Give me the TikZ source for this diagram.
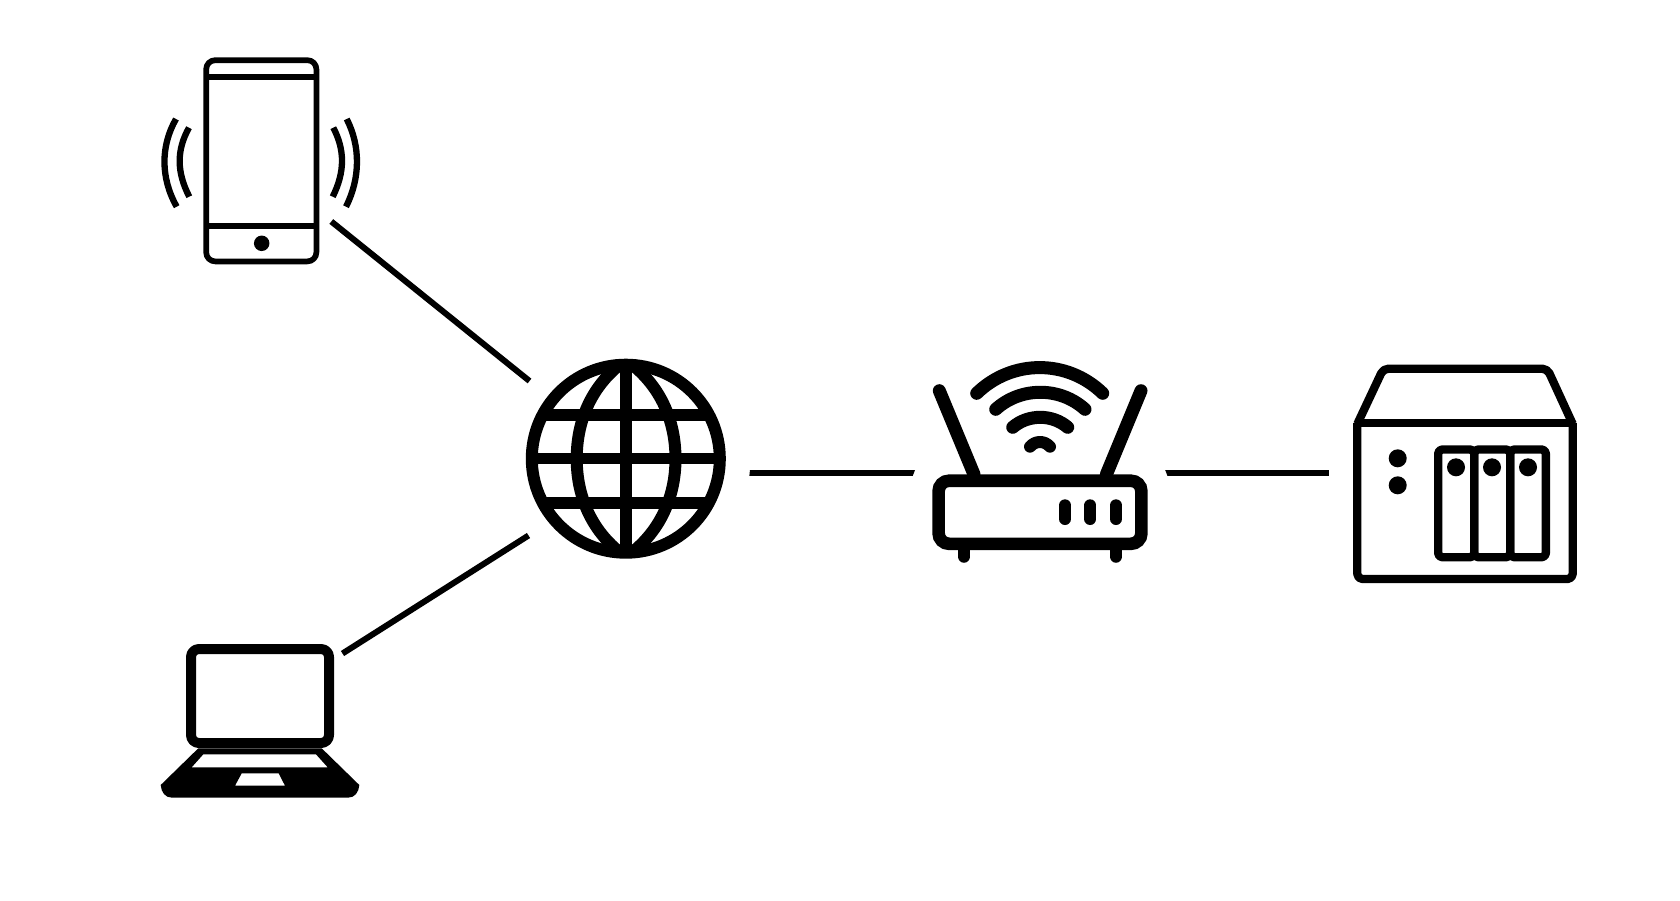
\documentclass[tikz,border=0pt]{standalone}
\tikzset{
  ink/.style={draw=black,line cap=butt,line join=round},
  link/.style={draw=black,line width=6pt,line cap=butt},
  solid dot/.style={circle,fill=black,draw=none,inner sep=0pt,minimum size=#1},
  round stroke/.style={draw=black,line width=#1,line cap=round,line join=round}
}
\begin{document}
\begin{tikzpicture}[x=1pt,y=-1pt]
\useasboundingbox (0,0) rectangle (1680,900);
\fill[white] (0,0) rectangle (1680,900);
% ports
\coordinate (phoneport) at (331.3,221.5);
\coordinate (laptopport) at (342.5,653.5);
\coordinate (globeNW) at (529.5,381);
\coordinate (globeSW) at (528.5,535.5);
\coordinate (globeE) at (749,473);
\coordinate (routerW) at (917,473);
\coordinate (routerE) at (1163,473);
\coordinate (nasW) at (1329,473);
% phone
\draw[ink,line width=5.7pt,rounded corners=9pt] (206.2,60.2) rectangle (316.4,261.4);
\draw[ink,line width=6.2pt] (206,77.3) -- (316,77.3);
\draw[ink,line width=6.5pt] (206,226) -- (316,226);
\node[solid dot=15.5pt] (phonebutton) at (261.7,243.3) {};
\draw[ink,line width=6.3pt] (176,119) .. controls (160.5,146) and (160.5,178) .. (176.7,206.7);
\draw[ink,line width=6.3pt] (189,127.7) .. controls (176.5,150) and (176.5,172) .. (189.3,196.7);
\draw[ink,line width=6.3pt] (346.7,119) .. controls (360.5,146) and (360.5,178) .. (346,206.7);
\draw[ink,line width=6.3pt] (333.3,127.7) .. controls (345,150) and (345,172) .. (332.7,196.7);
% laptop
\draw[ink,line width=10pt,rounded corners=8pt] (191,649) rectangle (329,743);
\fill[black,even odd rule]
  (198.3,748.3) -- (160.7,785) .. controls (161.2,792) and (165,797.7) .. (172,797.7)
  -- (348,797.7) .. controls (355,797.7) and (358.8,792) .. (359.3,785) -- (321.7,748.3) -- cycle
  (203.3,754.3) -- (316,754.3) -- (327.7,767.3) -- (191.7,767.3) -- cycle
  (241.7,773.3) -- (278.7,773.3) -- (285,785.7) -- (235,785.7) -- cycle;
% globe
\begin{scope}
\clip (625.8,458.7) circle[radius=98];
\draw[ink,line width=11.8pt] (626,350) -- (626,570);
\draw[ink,line width=11.8pt] (520,458.4) -- (730,458.4);
\draw[ink,line width=12pt] (520,415) -- (730,415);
\draw[ink,line width=12pt] (520,502.8) -- (730,502.8);
\draw[ink,line width=12pt] (626,360) .. controls (592,384) and (576.7,420) .. (576.7,458.7) .. controls (576.7,497) and (592,533) .. (626,557);
\draw[ink,line width=12pt] (626,360) .. controls (660,384) and (675.5,420) .. (675.5,458.7) .. controls (675.5,497) and (660,533) .. (626,557);
\end{scope}
\draw[ink,line width=12pt] (625.8,458.7) circle[radius=94];
% router
\draw[round stroke=13pt] (939.3,390.7) -- (974,474.3);
\draw[round stroke=13pt] (1141,390.7) -- (1106.4,474.3);
\draw[round stroke=12.7pt] (964,545) -- (964,556.4);
\draw[round stroke=12.7pt] (1116,545) -- (1116,556.4);
\draw[fill=white,draw=black,line width=12.6pt,rounded corners=10.5pt] (938.6,480.7) rectangle (1141.4,543.8);
\draw[round stroke=12pt] (1065,505.3) -- (1065,519);
\draw[round stroke=12pt] (1090.3,505.3) -- (1090.3,519);
\draw[round stroke=12pt] (1116,505.3) -- (1116,519);
\draw[round stroke=13pt] (976.7,393.3) .. controls (1012,359) and (1067.4,359) .. (1102.7,393.3);
\draw[round stroke=13pt] (995.7,409.3) .. controls (1020.7,386.6) and (1060,386.6) .. (1085,409.3);
\draw[round stroke=13pt] (1012.7,427.3) .. controls (1028.1,414) and (1052.3,414) .. (1067.7,427.3);
\draw[round stroke=12pt] (1030,446.7) .. controls (1035.6,440.4) and (1044.4,440.4) .. (1050,446.7);
% nas
\draw[ink,line width=8.3pt,rounded corners=5pt] (1357.3,423) -- (1357.3,579) -- (1572.7,579) -- (1572.7,423);
\draw[ink,line width=8.3pt,rounded corners=5pt] (1357.3,424) -- (1383.3,368.7) -- (1547.3,368.7) -- (1572.7,424);
\draw[ink,line width=8.7pt] (1355,423) -- (1575,423);
\draw[ink,line width=8.4pt,rounded corners=4pt] (1438.2,449.5) rectangle (1474.2,557.2);
\draw[ink,line width=8.4pt,rounded corners=4pt] (1474.2,449.5) rectangle (1510.2,557.2);
\draw[ink,line width=8.4pt,rounded corners=4pt] (1510.2,449.5) rectangle (1545.8,557.2);
\node[solid dot=18pt] (nasled1) at (1397.7,458.3) {};
\node[solid dot=18pt] (nasled2) at (1397.7,485.3) {};
\node[solid dot=18pt] (nasbay1) at (1456,467.3) {};
\node[solid dot=18pt] (nasbay2) at (1492,467.3) {};
\node[solid dot=18pt] (nasbay3) at (1528,467.3) {};
% connectors
\draw[link] (phoneport) -- (globeNW);
\draw[link] (laptopport) -- (globeSW);
\begin{scope}
\clip (750,469.5) -- (915.2,469.5) -- (912.5,476.5) -- (749.3,476.5) -- cycle;
\draw[link] (globeE) -- (routerW);
\end{scope}
\begin{scope}
\clip (1165,469.5) -- (1330,469.5) -- (1330,476.5) -- (1167.7,476.5) -- cycle;
\draw[link] (routerE) -- (nasW);
\end{scope}
\end{tikzpicture}
\end{document}
